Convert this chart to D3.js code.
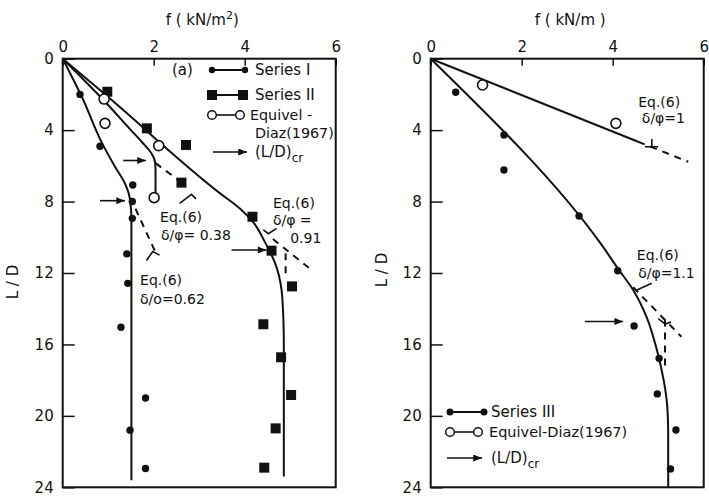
<!DOCTYPE html>
<html><head><meta charset="utf-8">
<script src="https://cdn.jsdelivr.net/npm/d3@7"></script>
<style>
body{margin:0;background:#fff}
svg{display:block}
text{font-family:"DejaVu Sans",sans-serif;fill:#111}
</style>
</head><body>
<svg id="c" width="709" height="496"></svg>
<script>
// ---------- data ----------
const xTickValues = [0, 2, 4, 6];
const yTickValues = [0, 4, 8, 12, 16, 20, 24];
const xTitleLeft = "f ( kN/m";
const xTitleRight = "f ( kN/m )";
const yTitle = "L / D";

// Panel (a)
const seriesI = [[0.38,2.0],[0.82,4.9],[1.54,7.07],[1.53,8.0],[1.53,8.94],[1.41,10.93],[1.43,12.58],[1.28,15.04],[1.82,19.0],[1.48,20.8],[1.82,22.95]];
const seriesII = [[0.98,1.85],[1.85,3.9],[2.71,4.83],[2.61,6.94],[4.17,8.85],[4.59,10.75],[5.04,12.75],[4.41,14.87],[4.8,16.72],[5.02,18.83],[4.68,20.7],[4.43,22.9]];
const equivelA = [[0.91,2.26],[0.93,3.62],[2.11,4.87],[2.01,7.78]];
const curveI = [[0,0],[0.45,2.3],[0.84,4.6],[1.15,6.05],[1.37,7.0],[1.48,7.9],[1.51,9.0],[1.51,23.6]];
const curveEquivelA = [[0,0],[0.89,2.3],[1.5,4.0],[1.77,4.75],[1.95,5.3],[2.03,5.8],[2.04,6.3],[2.04,7.7]];
const curveII = [[0,0],[1.0,2.15],[3.46,7.54],[3.9,8.4],[4.2,9.2],[4.45,10.3],[4.67,11.46],[4.81,12.95],[4.85,14.6],[4.86,16.0],[4.86,23.4]];
const dashI = [[1.6,8.4],[2.05,10.9]];          // Eq.(6) δ/φ=0.62
const dashEquivelA = [[2.04,5.85],[2.65,7.0]];  // Eq.(6) δ/φ=0.38
const dashII = [[4.62,10.1],[5.47,11.83]];      // Eq.(6) δ/φ=0.91
const dashIIv = [[4.9,10.9],[4.9,12.2]];
const arrowsA = [[1.33,1.83,5.7],[0.82,1.37,7.95],[3.71,4.48,10.71]]; // [from x, to x, L/D]

// Panel (b)
const seriesIII = [[0.55,1.88],[1.61,4.27],[1.61,6.23],[3.26,8.81],[4.11,11.87],[4.47,14.97],[5.02,16.78],[4.98,18.77],[5.39,20.79],[5.27,22.97]];
const equivelB = [[1.14,1.47],[4.07,3.62]];
const curveIII = [[0,0],[3.75,10.4],[4.1,11.7],[4.45,12.95],[4.75,14.5],[4.97,16.3],[5.12,18.0],[5.2,19.5],[5.22,21.0],[5.22,24.0]];
const lineEquivelB = [[0,0],[4.56,4.65]];
const dashEquivelB = [[4.56,4.65],[5.66,5.77]]; // Eq.(6) δ/φ=1
const dashIII = [[4.45,12.8],[5.51,15.57]];     // Eq.(6) δ/φ=1.1
const dashIIIv = [[5.15,14.6],[5.15,17.4]];
const arrowsB = [[3.39,4.23,14.72]];

// annotations [x, L/D, text]
const notesA = [[2.14,8.86,"Eq.(6)"],[2.16,9.87,"δ/φ= 0.38"],[1.70,12.39,"Eq.(6)"],[1.70,13.45,"δ/o=0.62"],
                [4.62,8.08,"Eq.(6)"],[4.62,9.03,"δ/φ ="],[5.0,10.04,"0.91"]];
const notesB = [[4.56,2.41,"Eq.(6)"],[4.64,3.34,"δ/φ=1"],[4.53,10.99,"Eq.(6)"],[4.56,12.02,"δ/φ=1.1"]];
// leader ticks
const leadersA = [[[2.57,8.1],[2.83,7.6],[2.93,7.85]],[[1.84,11.3],[1.98,10.8],[2.13,11.0]],[[4.41,9.59],[4.52,9.8],[4.70,9.5]]];
const leadersB = [[[4.71,4.93],[5.0,4.93]],[[4.86,4.5],[4.86,4.93]],[[4.53,12.95],[4.86,12.57]],[[5.0,14.55],[5.15,14.85],[5.28,14.75]]];

// ---------- drawing ----------
const svg = d3.select("#c");
const plotTop = 58.7, plotBottom = 487.3;
const y = d3.scaleLinear().domain([0,24]).range([plotTop,plotBottom]);

const defs = svg.append("defs");
defs.append("marker").attr("id","ah").attr("viewBox","0 0 10 8").attr("refX",10).attr("refY",4)
  .attr("markerWidth",10).attr("markerHeight",7).attr("markerUnits","userSpaceOnUse").attr("orient","auto")
  .append("path").attr("d","M0,0L10,4L0,8Z").attr("fill","#111");

function panel(left, right, opts){
  const x = d3.scaleLinear().domain([0,6]).range([left,right]);
  const g = svg.append("g");
  const line = d3.line().x(d=>x(d[0])).y(d=>y(d[1]));
  const curve = d3.line().x(d=>x(d[0])).y(d=>y(d[1])).curve(d3.curveMonotoneY);

  g.append("rect").attr("x",left).attr("y",plotTop).attr("width",right-left).attr("height",plotBottom-plotTop)
    .attr("fill","none").attr("stroke","#111").attr("stroke-width",2);

  const ax = g.append("g").attr("transform",`translate(0,${plotTop})`)
    .call(d3.axisTop(x).tickValues(xTickValues).tickSizeInner(-7).tickSizeOuter(0).tickPadding(7).tickFormat(d3.format("d")));
  ax.select(".domain").remove();
  ax.selectAll("line").attr("stroke","#111").attr("stroke-width",1.5);
  ax.selectAll("text").attr("font-size",15).attr("font-family","DejaVu Sans").attr("fill","#111");

  const ay = g.append("g").attr("transform",`translate(${left},0)`)
    .call(d3.axisLeft(y).tickValues(yTickValues).tickSizeInner(-12).tickSizeOuter(0).tickPadding(9).tickFormat(d3.format("d")));
  ay.select(".domain").remove();
  ay.selectAll("line").attr("stroke","#111").attr("stroke-width",1.5);
  ay.selectAll("text").attr("font-size",15).attr("font-family","DejaVu Sans").attr("fill","#111");

  const t = g.append("text").attr("x",(left+right)/2+3).attr("y",25).attr("text-anchor","middle").attr("font-size",15);
  if(opts.sup){ t.text(opts.title); t.append("tspan").attr("dy",-6).attr("font-size",11).text("2"); t.append("tspan").attr("dy",6).text(")"); }
  else t.text(opts.title);
  g.append("text").attr("transform",`translate(${opts.yLabX},${opts.yLabY}) rotate(-90)`)
    .attr("text-anchor","middle").attr("font-size",15).text(yTitle);

  const solid = (data,c)=>g.append("path").datum(data).attr("d",c?curve:line).attr("fill","none").attr("stroke","#111").attr("stroke-width",2);
  const dashed = (data)=>g.append("path").datum(data).attr("d",line).attr("fill","none").attr("stroke","#111").attr("stroke-width",2).attr("stroke-dasharray","7,6");
  opts.curves.forEach(c=>solid(c,true));
  opts.lines.forEach(c=>solid(c,false));
  opts.dashes.forEach(dashed);
  opts.leaders.forEach(l=>g.append("path").datum(l).attr("d",line).attr("fill","none").attr("stroke","#111").attr("stroke-width",1.6));

  (opts.dots||[]).forEach(set=>g.selectAll(null).data(set).join("circle")
    .attr("cx",d=>x(d[0])).attr("cy",d=>y(d[1])).attr("r",3.7).attr("fill","#111"));
  (opts.squares||[]).forEach(set=>g.selectAll(null).data(set).join("rect")
    .attr("x",d=>x(d[0])-5).attr("y",d=>y(d[1])-5).attr("width",10).attr("height",10).attr("fill","#111"));
  (opts.open||[]).forEach(set=>g.selectAll(null).data(set).join("circle")
    .attr("cx",d=>x(d[0])).attr("cy",d=>y(d[1])).attr("r",5).attr("fill","#fff").attr("stroke","#111").attr("stroke-width",1.6));

  g.selectAll(null).data(opts.arrows).join("line")
    .attr("x1",d=>x(d[0])).attr("x2",d=>x(d[1])).attr("y1",d=>y(d[2])).attr("y2",d=>y(d[2]))
    .attr("stroke","#111").attr("stroke-width",1.6).attr("marker-end","url(#ah)");

  g.selectAll(null).data(opts.notes).join("text")
    .attr("x",d=>x(d[0])).attr("y",d=>y(d[1])).attr("dy","0.36em").attr("font-size",14).text(d=>d[2]);
  return {x,g};
}

const A = panel(62.7, 335.7, {
  title: xTitleLeft, sup:true, yLabX:18, yLabY:282,
  curves:[curveI, curveEquivelA, curveII], lines:[], dashes:[dashI, dashEquivelA, dashII, dashIIv],
  leaders: leadersA, dots:[seriesI], squares:[seriesII], open:[equivelA], arrows: arrowsA, notes: notesA
});
{
  const g = A.g;
  const rows = [70, 95, 115, 152];
  g.append("text").attr("x",172).attr("y",rows[0]).attr("dy","0.36em").attr("font-size",15).text("(a)");
  g.append("line").attr("x1",212).attr("x2",245).attr("y1",rows[0]).attr("y2",rows[0]).attr("stroke","#111").attr("stroke-width",2);
  g.selectAll(null).data([212,245]).join("circle").attr("cx",d=>d).attr("cy",rows[0]).attr("r",3.2).attr("fill","#111");
  g.append("text").attr("x",255).attr("y",rows[0]).attr("dy","0.36em").attr("font-size",15).text("Series I");
  g.append("line").attr("x1",212).attr("x2",243).attr("y1",rows[1]).attr("y2",rows[1]).attr("stroke","#111").attr("stroke-width",2);
  g.selectAll(null).data([212,243]).join("rect").attr("x",d=>d-5).attr("y",rows[1]-5).attr("width",10).attr("height",10).attr("fill","#111");
  g.append("text").attr("x",255).attr("y",rows[1]).attr("dy","0.36em").attr("font-size",15).text("Series II");
  g.append("line").attr("x1",212).attr("x2",240).attr("y1",rows[2]).attr("y2",rows[2]).attr("stroke","#111").attr("stroke-width",1.6);
  g.selectAll(null).data([212,240]).join("circle").attr("cx",d=>d).attr("cy",rows[2]).attr("r",4.3).attr("fill","#fff").attr("stroke","#111").attr("stroke-width",1.5);
  g.append("text").attr("x",250).attr("y",rows[2]).attr("dy","0.36em").attr("font-size",14.3).text("Equivel -");
  g.append("text").attr("x",255).attr("y",132.5).attr("dy","0.36em").attr("font-size",14.3).text("Diaz(1967)");
  g.append("line").attr("x1",213).attr("x2",247).attr("y1",rows[3]).attr("y2",rows[3]).attr("stroke","#111").attr("stroke-width",1.6).attr("marker-end","url(#ah)");
  const t = g.append("text").attr("x",255).attr("y",rows[3]).attr("dy","0.36em").attr("font-size",15).text("(L/D)");
  t.append("tspan").attr("dy",5).attr("font-size",12).text("cr");
}

const B = panel(430.7, 703.7, {
  title: xTitleRight, sup:false, yLabX:387, yLabY:270,
  curves:[curveIII], lines:[lineEquivelB], dashes:[dashEquivelB, dashIII, dashIIIv],
  leaders: leadersB, dots:[seriesIII], open:[equivelB], arrows: arrowsB, notes: notesB
});
{
  const g = B.g;
  const rows = [412, 432, 458];
  g.append("line").attr("x1",450).attr("x2",484).attr("y1",rows[0]).attr("y2",rows[0]).attr("stroke","#111").attr("stroke-width",2);
  g.selectAll(null).data([450,484]).join("circle").attr("cx",d=>d).attr("cy",rows[0]).attr("r",3.5).attr("fill","#111");
  g.append("text").attr("x",491).attr("y",rows[0]).attr("dy","0.36em").attr("font-size",15).text("Series III");
  g.append("line").attr("x1",450).attr("x2",478).attr("y1",rows[1]).attr("y2",rows[1]).attr("stroke","#111").attr("stroke-width",1.6);
  g.selectAll(null).data([450,478]).join("circle").attr("cx",d=>d).attr("cy",rows[1]).attr("r",4.3).attr("fill","#fff").attr("stroke","#111").attr("stroke-width",1.5);
  g.append("text").attr("x",489).attr("y",rows[1]).attr("dy","0.36em").attr("font-size",14.5).text("Equivel-Diaz(1967)");
  g.append("line").attr("x1",447).attr("x2",482).attr("y1",rows[2]).attr("y2",rows[2]).attr("stroke","#111").attr("stroke-width",1.6).attr("marker-end","url(#ah)");
  const t = g.append("text").attr("x",491).attr("y",rows[2]).attr("dy","0.36em").attr("font-size",15).text("(L/D)");
  t.append("tspan").attr("dy",5).attr("font-size",12).text("cr");
}
</script>
</body></html>
